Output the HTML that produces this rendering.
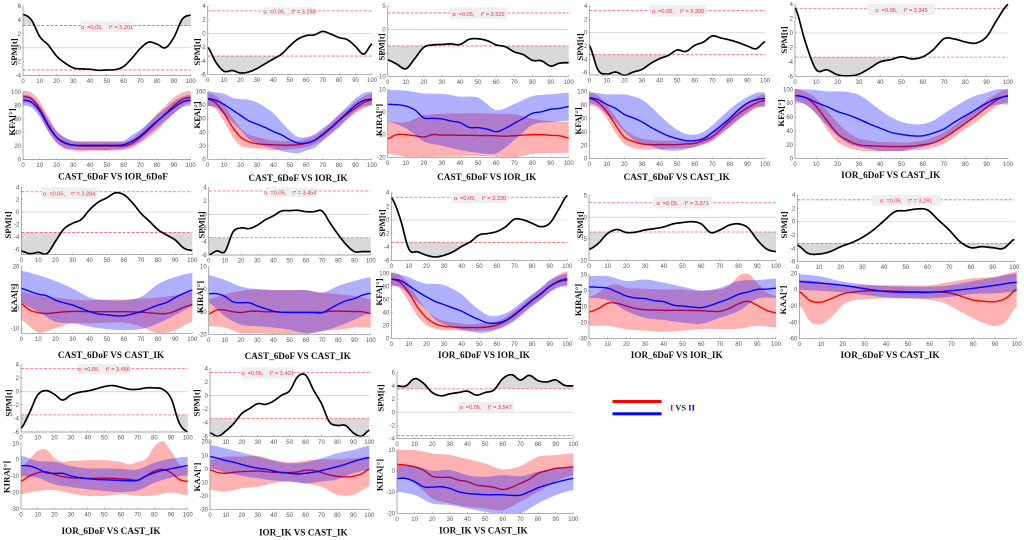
<!DOCTYPE html>
<html lang="en">
<head>
<meta charset="utf-8">
<title>SPM knee kinematics comparison</title>
<style>
html,body{margin:0;padding:0;background:#fff;}
#figure{display:block;width:1024px;height:540px;filter:blur(0.3px);}
.tick{font-family:"Liberation Sans",sans-serif;font-size:6px;fill:#555;}
.ylab{font-family:"Liberation Serif",serif;font-weight:bold;font-size:8.8px;fill:#111;}
.title{font-family:"Liberation Serif",serif;font-weight:bold;font-size:9.2px;fill:#111;}
.alpha{font-family:"Liberation Sans",sans-serif;font-size:5.6px;fill:#ee3344;white-space:pre;}
</style>
</head>
<body>
<svg id="figure" xmlns="http://www.w3.org/2000/svg" width="1024" height="540" viewBox="0 0 1024 540">
  <g id="panels"></g>
  <g>
    <rect x="612.5" y="400" width="49" height="3" fill="#ff0000"/>
    <rect x="612.5" y="412.3" width="49" height="3" fill="#0000ff"/>
    <text x="670" y="410.5" font-family="'Liberation Serif',serif" font-weight="bold" font-size="8.5" fill="#222"><tspan fill="#ff0000">I</tspan> VS <tspan fill="#0000cc">II</tspan></text>
  </g>
</svg>
<script>
const xTicks = [0,10,20,30,40,50,60,70,80,90,100];
const spmTicks64 = [6,4,2,0,-2,-4];
const spmTicks46 = [4,2,0,-2,-4,-6];
const spmTicks510 = [5,0,-5,-10];
const kfaTicks = [100,80,60,40,20,0];
const kiraTicks20 = [10,0,-10,-20];
const kiraTicks30 = [10,0,-10,-20,-30];
const kaaTicks10 = [20,10,0,-10];
const kaaTicks60 = [20,0,-20,-40,-60];
const kaaTicks30 = [20,10,0,-10,-20,-30];

const panelTitles = ["CAST_6DoF VS IOR_6DoF","CAST_6DoF VS IOR_IK","CAST_6DoF VS IOR_IK","CAST_6DoF VS CAST_IK","IOR_6DoF VS CAST_IK","CAST_6DoF VS CAST_IK","CAST_6DoF VS CAST_IK","IOR_6DoF VS IOR_IK","IOR_6DoF VS IOR_IK","IOR_6DoF VS CAST_IK","IOR_6DoF VS CAST_IK","IOR_IK VS CAST_IK","IOR_IK VS CAST_IK"];
const criticalT = [3.201,3.288,3.522,3.300,3.345,3.284,3.454,3.330,3.371,3.281,3.456,3.401,3.547];
const bandLabels = ["KFA[°]","KFA[°]","KIRA[°]","KFA[°]","KFA[°]","KAA[°]","KIRA[°]","KFA[°]","KIRA[°]","KAA[°]","KIRA[°]","KAA[°]","KIRA[°]"];

const p1Spm = [4.8,4,1.6,0.4,-1.2,-2.2,-2.9,-3.05,-3.1,-3.25,-3.2,-3.15,-2.7,-1.5,-0.1,0.8,0.5,0,1.5,4.1,4.7];
const p1Red = [93,90,75,52,33,24,21,20,20,20,20,20,20,24,33,44,56,68,80,89,92];
const p1RedHi = [102,99,86,64,43,32,27,26,26,26,26,26,26,31,41,54,68,80,92,99,102];
const p1RedLo = [84,81,66,42,25,16,13,12,13,13,13,13,14,17,24,33,43,56,68,79,84];
const p1Blue = [88,85,72,50,33,25,21.5,21,21,21,21,21,22,27,35,46,57,67,77,85,88];
const p1BlueHi = [96,93,80,60,42,33,28,27,27,27,27,27,28,36,44,55,66,76,86,93,96];
const p1BlueLo = [80,77,63,42,25,17,15,14,14,14,14,15,16,20,27,37,47,58,68,77,80];

const p2Spm = [-2,-4.2,-5.5,-5.4,-5.75,-5.6,-5.1,-4.4,-3.7,-3,-1.8,-0.8,-0.3,-0.2,0.3,-0.1,-0.6,-0.9,-1.9,-3,-1.5];
const p2Red = [89,83,68,48,33,26,23,22,21.5,21,21,21.5,24,28,36,46,57,67,76,84,88];
const p2RedHi = [98,94,80,62,46,37,33,30,28,27,27,27,30,35,43,54,65,75,85,93,97];
const p2RedLo = [79,74,56,34,20,17,16,15,13,14,15,16,18,22,29,39,49,59,68,75,80];
const p2Blue = [90,87,81,73,65,57,52,47,41,36,29,24,24,28,37,47,58,69,80,87,89];
const p2BlueHi = [101,99,97,91,89,88,84,77,68,55,42,33,33,37,46,55,67,78,90,98,100];
const p2BlueLo = [79,77,66,55,43,30,24,19,16,12,10,9,13,17,27,37,47,60,71,78,80];

const p3Spm = [-6.5,-7.4,-8.4,-6.2,-3.8,-3.3,-3.2,-3.1,-3.2,-2.1,-2,-2.4,-3.3,-3.7,-4.8,-5.4,-6.6,-6.7,-7.8,-7.2,-7.1];
const p3Red = [-11.8,-10,-10,-10.5,-11,-10,-10.2,-10.2,-10.3,-10.3,-10.4,-10.4,-10.5,-10.7,-10.5,-10.2,-10,-10,-10.3,-10.5,-11.5];
const p3RedHi = [-4.3,-4.5,-1.5,-0.8,-0.6,-0.5,-0.8,-1,-3,-4,-4.3];
const p3RedLo = [-18.5,-19.7,-20,-19.7,-19.7,-19.4,-19.7,-20,-18.5,-18.2,-18];
const p3Blue = [3.4,3.2,2.6,0.9,-2.6,-2.8,-3.1,-4,-4.7,-6.8,-6.9,-7.6,-8.7,-7.2,-5,-2.8,-0.6,0.1,1.2,1.6,2.4];
const p3BlueHi = [9.7,9.4,8.2,8,6.8,6.3,0.9,3.5,7,7.8,8.5];
const p3BlueLo = [-4.3,-7.2,-13,-14.9,-16.8,-18,-18.2,-12.4,-5.7,-4.5,-3.8];

const p4Spm = [-1.9,-5.6,-6.2,-5.9,-6.4,-5.9,-5.5,-4.6,-3.9,-3.4,-2.6,-2.8,-1.9,-1.4,-0.5,-0.8,-1.1,-1.5,-2,-2.4,-1.35];
const p4Red = [90,84,70,50,32,26,22,21,21,21,21,22,23,27,33,44,56,67,76,83,87];
const p4RedHi = [99,94,80,62,44,35,30,28,27,27,27,27,28,32,41,52,64,75,84,92,96];
const p4RedLo = [80,75,60,38,22,16,14,14,14,15,15,16,17,21,26,36,47,58,67,75,78];
const p4Blue = [91,88,81,75,66,61,55,47,40,34,30,27,27,30,39,49,60,73,83,88,90];
const p4BlueHi = [99,98,96,96,96,93,88,78,65,53,43,37,36,40,50,62,74,84,92,98,99];
const p4BlueLo = [83,78,66,55,40,29,22,19,14,12,12,14,18,22,28,38,48,59,69,77,78];

const p5Spm = [3.5,-1.4,-5.1,-5.1,-5.8,-5.95,-5.7,-4.9,-4,-3.7,-3.3,-3.6,-3.3,-2.3,-0.8,-0.85,-1.25,-1.4,-0.5,1.9,3.95];
const p5Red = [91,88,75,55,36,26,20,18.5,18,17.5,17.5,18,20,23,30,40,51,62,74,85,91];
const p5RedHi = [101,96,87,70,52,38,29,26,24,24,23,24,26,31,38,48,60,72,84,94,101];
const p5RedLo = [84,78,64,42,24,16,12,11,11,11,11,12,13,16,22,32,43,53,65,76,82];
const p5Blue = [91,88,81,75,68,63,57,50,44,38,35,33,33,37,43,53,62,71,80,87,90];
const p5BlueHi = [100,100,99,97,97,96,92,82,70,60,53,50,50,55,65,75,84,91,95,100,100];
const p5BlueLo = [81,78,65,48,33,22,17,14,11,11,11,14,17,22,30,40,51,62,72,78,78];

const p6Spm = [-6.3,-6.7,-6.5,-6.7,-4.7,-2.7,-1.8,-1.2,0.4,1.6,2.3,3.1,2.8,1.5,-0.2,-1.5,-2.85,-3.7,-4.5,-5.8,-6.2];
const p6Red = [1.8,-1.1,-2.4,-2.8,-2.4,-2,-1.8,-1.8,-1.9,-1.9,-1.9,-1.9,-1.9,-2,-2.1,-2.5,-2.8,-2.8,-1.6,0.2,1.5];
const p6RedHi = [7.8,6,5,4,3.7,4,4,4.5,5,6,7.8];
const p6RedLo = [-6,-12,-10,-7.6,-7.6,-7.3,-7.3,-9.2,-12.5,-10.9,-6.8];
const p6Blue = [9.4,8,6.6,5.8,3.7,2.4,1.3,-0.3,-1.9,-3,-3.4,-3.9,-3.9,-3,-1.9,-0.3,1.3,2.6,5,7,8.6];
const p6BlueHi = [18,15.9,13,9.4,5,3.7,3.7,5.3,11.5,15,17];
const p6BlueLo = [2,-2,-6.8,-7.6,-9.2,-10.4,-10.9,-10.4,-7.6,-3.6,0.5];

const p7Spm = [-6,-5.4,-5.5,-2.6,-2,-2.1,-1.6,-0.8,-0.2,0.5,0.55,0.6,0.4,0.4,0.5,-1.3,-3,-4.5,-5.5,-5.5,-5.5];
const p7Red = [-11,-9.2,-9.3,-10,-10.3,-9.8,-9.8,-10,-10,-10.2,-10.2,-10.2,-10.2,-10.2,-10.2,-9.8,-9.7,-9.8,-9.9,-10,-10.8];
const p7RedHi = [-4.4,-2.2,-0.7,0,-0.3,-0.4,-0.4,-1.5,-2.2,-3,-4.4];
const p7RedLo = [-16.4,-17,-19.5,-19.5,-20,-20,-20,-18.4,-18,-17,-17];
const p7Blue = [-2,-2,-3.2,-5.6,-6,-6,-7.4,-8.6,-9.7,-10.2,-10.3,-10.3,-10.3,-10.4,-10.4,-8.6,-6.6,-5.1,-4.1,-2.6,-1.8];
const p7BlueHi = [6.2,4.1,1.2,0,-0.4,-0.4,-0.4,-1.5,1.5,3.7,5.3];
const p7BlueLo = [-6,-12,-15.7,-16.4,-17,-18,-19.5,-18.7,-16.4,-13.5,-10.5];

const p8Spm = [3.3,0.25,-4.3,-4.7,-5.2,-5.45,-5.2,-4.7,-3.9,-3.2,-2.2,-2,-1.7,-1,0.1,0,-0.5,-1,-0.5,1.5,3.6];
const p8Red = [91,86,70,48,32,23,19,18,17,17,17,18,21,27,36,47,58,68,80,88,92];
const p8RedHi = [102,97,84,62,44,33,27,25,23,22,23,24,27,33,43,54,66,77,88,98,103];
const p8RedLo = [82,76,56,34,21,15,13,13,12,12,12,13,15,21,29,40,50,60,71,80,82];
const p8Blue = [91,89,81,72,64,57,52,47,42,35,29,24,24,28,37,48,59,69,80,87,90];
const p8BlueHi = [100,98,94,88,84,84,82,76,68,55,44,36,35,39,47,58,68,78,90,96,100];
const p8BlueLo = [81,79,68,56,44,29,22,17,14,11,9,10,14,19,27,38,50,60,71,78,80];

const p9Spm = [-7.4,-6,-3.7,-2.8,-3.5,-3.4,-2.9,-2.6,-2.2,-1.5,-1.2,-1,-1.5,-3.5,-2.9,-1.8,-1.5,-2.4,-5.2,-7.3,-7.9];
const p9Red = [-13.4,-11.3,-8,-8,-9.7,-11.2,-12,-12.2,-12.4,-12.4,-12.4,-12.5,-12.6,-13,-13,-11.2,-8.3,-6.8,-9.3,-12.4,-13.9];
const p9RedHi = [-4,-1.5,2.7,3.7,1.6,1.2,1,0.8,0.6,0.6,0.6,0,-0.4,0,0.6,3,8.9,10.3,4.8,-1,-3.5];
const p9RedLo = [-22,-22,-24,-25,-25.7,-25,-24,-24,-23.8,-22,-23];
const p9Blue = [2.2,1.9,1.4,-1,-3.5,-4.7,-5.1,-6.4,-7,-9.1,-9.7,-10.3,-10.7,-9.3,-7.2,-5.1,-2.4,-1,0.6,0.8,1.4];
const p9BlueHi = [8.9,8.9,5.8,6.8,4.8,2.3,0,1.6,5.8,6.4,7.4];
const p9BlueLo = [-4.6,-6,-12.8,-17,-18.4,-20,-20.7,-17,-12.8,-5.2,-4.6];

const p10Spm = [-3.5,-4.75,-4.85,-4.5,-3.75,-3.15,-2.35,-1.25,0.15,1.5,1.65,1.9,1.75,0.25,-1.25,-3,-3.9,-3.75,-3.9,-4,-2.65];
const p10Red = [-2.4,-13.5,-15.2,-10.6,-5.3,-2.9,-1.6,-1.5,-1.6,-2,-2.4,-2.6,-2.9,-3,-4.5,-8.6,-12.7,-14.3,-14.7,-10.6,0.4];
const p10RedHi = [11.8,9.8,5.7,5.3,5.3,5.3,5.3,9.8,13.9,16,22];
const p10RedLo = [-18.8,-39,-42.4,-33,-18.8,-13,-11.8,-11,-10.6,-10.6,-10.6,-11,-12.7,-15,-20.8,-28,-35,-41,-44.5,-39,-20.8];
const p10Blue = [9.8,7.8,5.3,1.2,-2.4,-3.3,-3.3,-1.2,1.6,5.3,9];
const p10BlueHi = [18.8,16,9.8,6.5,4.5,3.7,3.7,5.7,10.6,15,20];
const p10BlueLo = [-0.4,-1.6,-3.3,-6.5,-9.4,-10.6,-10.6,-8.6,-5.3,-4.5,-2.4];

const p11Spm = [-5.45,-3.2,-0.5,0.15,-0.4,-1.25,-0.5,-0.1,0.1,0.4,0.75,0.9,0.65,0.35,0.35,0.55,0.55,0.35,-1,-4.7,-6];
const p11Red = [-13,-10,-8,-7.3,-8.9,-10.3,-11,-11.2,-11.4,-11.3,-11.2,-11.3,-11.6,-12,-12.4,-9.9,-6.9,-5.9,-7.9,-12,-13.2];
const p11RedHi = [-4.9,0.2,5.3,6.3,1.2,-1.4,-0.6,-0.6,-0.2,-0.2,-0.2,-0.8,-1.4,-2.8,-1.4,0.6,8,11.2,5.3,-2.8,-4.9];
const p11RedLo = [-21,-19,-18.5,-20.5,-22,-22,-21,-22,-21.7,-20,-21.7];
const p11Blue = [-3.6,-3.8,-5.5,-7.9,-8.3,-8.3,-9.9,-10.9,-11.5,-12,-12.2,-12.4,-12.6,-12.8,-12.6,-9.9,-7.9,-6.5,-5.5,-4.5,-3.6];
const p11BlueHi = [2.4,-0.8,-1.2,-3.9,-5.3,-5.3,-5.5,-5.9,-1.8,0.6,1.8];
const p11BlueLo = [-10,-11,-15,-16.6,-18,-19,-19.7,-18.7,-14,-11,-9.5];

const p12Spm = [-5.5,-6,-5.2,-4.1,-2.65,-1.9,-1.2,-1.3,-0.8,0.05,0.7,2.75,3,0.8,-1.2,-3.9,-4.4,-4.4,-5.5,-6,-5.1];
const p12Red = [-0.7,-2.7,-3.2,-2.5,-2,-1.8,-1.5,-2,-2.5,-2.6,-2.7,-2.2,-1,-1.2,-2.7,-4.4,-5.4,-5.9,-5.4,-3.7,-0.2];
const p12RedHi = [6.6,9,9,9.6,6.6,4.7,6.1,7.1,7.1,7.8,9];
const p12RedLo = [-15.4,-16.7,-14.2,-13,-10.5,-9.3,-11,-13,-19,-19,-13];
const p12Blue = [9,7.8,6.1,4.9,3.2,1.7,0.5,-0.2,-1.5,-2.7,-3.2,-3.7,-3.2,-2.4,-1.2,0.2,1.7,3.4,5.4,7.1,8.3];
const p12BlueHi = [17.6,15,12,9,5.9,4.2,4.9,7.8,11.5,14,17];
const p12BlueLo = [0.5,-2.7,-5.1,-6.9,-8.6,-9.3,-10.5,-9.3,-7.6,-3.2,-0.7];

const p13Spm = [4,4,5.1,4.4,3,2.5,2.8,3,3.2,2.6,3,3.4,5.1,5.7,4.9,5.6,4.8,4.6,4.9,4.1,4];
const p13Red = [3.2,2.8,2,0.5,-2.4,-3,-3,-4.3,-5,-6.6,-7.1,-7.7,-8.7,-7.7,-5.8,-3.9,-1.1,0.2,1.3,1.6,2];
const p13RedHi = [10,10,8.4,7.6,5.7,3.6,0.8,2.4,6.8,7.6,8.4];
const p13RedLo = [-2.7,-5.8,-13,-15.3,-16.9,-17.7,-18.5,-14.5,-9.8,-5,-1.9];
const p13Blue = [-3.5,-3.5,-5,-7.4,-7.6,-7.4,-8.2,-9.8,-10.6,-10.9,-11.2,-11.2,-11.2,-11.5,-11.4,-9.8,-7.9,-6.6,-5.4,-4.3,-3.5];
const p13BlueHi = [2.8,2.4,0.2,0.5,-1.9,-2.7,-1.9,-2.4,-0.3,1.3,2];
const p13BlueLo = [-9.8,-11.4,-15.3,-16.1,-17.7,-19.3,-20.5,-20,-15.3,-11.4,-9];

const spmSeries = [p1Spm,p2Spm,p3Spm,p4Spm,p5Spm,p6Spm,p7Spm,p8Spm,p9Spm,p10Spm,p11Spm,p12Spm,p13Spm];
const redSeries = [p1Red,p2Red,p3Red,p4Red,p5Red,p6Red,p7Red,p8Red,p9Red,p10Red,p11Red,p12Red,p13Red];
const redHiSeries = [p1RedHi,p2RedHi,p3RedHi,p4RedHi,p5RedHi,p6RedHi,p7RedHi,p8RedHi,p9RedHi,p10RedHi,p11RedHi,p12RedHi,p13RedHi];
const redLoSeries = [p1RedLo,p2RedLo,p3RedLo,p4RedLo,p5RedLo,p6RedLo,p7RedLo,p8RedLo,p9RedLo,p10RedLo,p11RedLo,p12RedLo,p13RedLo];
const blueSeries = [p1Blue,p2Blue,p3Blue,p4Blue,p5Blue,p6Blue,p7Blue,p8Blue,p9Blue,p10Blue,p11Blue,p12Blue,p13Blue];
const blueHiSeries = [p1BlueHi,p2BlueHi,p3BlueHi,p4BlueHi,p5BlueHi,p6BlueHi,p7BlueHi,p8BlueHi,p9BlueHi,p10BlueHi,p11BlueHi,p12BlueHi,p13BlueHi];
const blueLoSeries = [p1BlueLo,p2BlueLo,p3BlueLo,p4BlueLo,p5BlueLo,p6BlueLo,p7BlueLo,p8BlueLo,p9BlueLo,p10BlueLo,p11BlueLo,p12BlueLo,p13BlueLo];

/* layout only: pixel geometry of each panel's axes and annotations */
const layouts = [
 {x0:23,x1:190.7,bx0:23,bx1:190.7,sHi:6,sHiY:6,sLo:-4,sLoY:75.5,sBot:75.5,sT:spmTicks64,bHi:100,bHiY:92,bLo:0,bLoY:159.5,bBot:159.5,bT:kfaTicks,tx:113,ty:179.5,sx:14,sy:52,bx:12,by:122,box:[81,21.7,52,10.3],ay:29},
 {x0:207.7,x1:372,bx0:207.7,bx1:372,sHi:4,sHiY:6,sLo:-6,sLoY:74.7,sBot:74.7,sT:spmTicks46,bHi:100,bHiY:91.7,bLo:0,bLoY:159.3,bBot:159.3,bT:kfaTicks,tx:298,ty:181,sx:197,sy:52,bx:197,by:115,box:[264,7.3,51,8.4],ay:13.5},
 {x0:387.7,x1:568.7,bx0:387.7,bx1:568.7,sHi:5,sHiY:6,sLo:-10,sLoY:76.3,sBot:76.3,sT:spmTicks510,bHi:10,bHiY:89.3,bLo:-20,bLoY:157.3,bBot:157.3,bT:kiraTicks20,tx:486.7,ty:180,sx:381.7,sy:47,bx:379,by:120,box:[450,7.3,57,11.7],ay:16},
 {x0:589.3,x1:765,bx0:589.3,bx1:765,sHi:4,sHiY:6,sLo:-6,sLoY:72.7,sBot:75,sT:spmTicks46,bHi:100,bHiY:91.7,bLo:0,bLoY:158.7,bBot:158.7,bT:kfaTicks,tx:676.7,ty:180,sx:580,sy:47,bx:578,by:121,box:[650,5,56,11.7],ay:13},
 {x0:795,x1:1008,bx0:795,bx1:1008,sHi:4,sHiY:4,sLo:-6,sLoY:76.3,sBot:76.3,sT:spmTicks46,bHi:100,bHiY:89.3,bLo:0,bLoY:158.7,bBot:158.7,bT:kfaTicks,tx:890.7,ty:178,sx:784,sy:40,bx:781,by:113,box:[868,4,67,11],ay:12},
 {x0:21.3,x1:192.3,bx0:21.3,bx1:192.3,sHi:4,sHiY:187.3,sLo:-6,sLoY:249.3,sBot:254.7,sT:spmTicks46,bHi:20,bHiY:266.7,bLo:-10,bLoY:328.3,bBot:333.3,bT:kaaTicks10,tx:111,ty:358,sx:8,sy:225,bx:14,by:298,box:[41.7,187.3,55,11.7],ay:195.3},
 {x0:208.7,x1:370.7,bx0:208.7,bx1:370.7,sHi:4,sHiY:187.3,sLo:-6,sLoY:255,sBot:255,sT:spmTicks46,bHi:10,bHiY:266.7,bLo:-20,bLoY:334.3,bBot:334.3,bT:kiraTicks20,tx:297.7,ty:359,sx:201.7,sy:225,bx:200,by:297,box:[265,187.3,50.7,9.5],ay:194.3},
 {x0:391.3,x1:567.3,bx0:391.3,bx1:567.3,sHi:4,sHiY:192.7,sLo:-6,sLoY:260.7,sBot:260.7,sT:spmTicks46,bHi:100,bHiY:273.3,bLo:0,bLoY:338.7,bBot:338.7,bT:kfaTicks,tx:484,ty:358,sx:382,sy:223,bx:379,by:292,box:[451.7,192.7,56.6,10.6],ay:200},
 {x0:589,x1:776,bx0:589,bx1:776,sHi:5,sHiY:195.7,sLo:-10,sLoY:260.7,sBot:260.7,sT:spmTicks510,bHi:10,bHiY:274.3,bLo:-30,bLoY:338.7,bBot:338.7,bT:kiraTicks30,tx:676.7,ty:358,sx:580,sy:225,bx:578,by:300,box:[653.3,196.7,58.4,11.6],ay:205},
 {x0:797.3,x1:1014.3,bx0:799.3,bx1:1016.7,sHi:4,sHiY:195,sLo:-6,sLoY:261.7,sBot:261.7,sT:spmTicks46,bHi:20,bHiY:273.3,bLo:-60,bLoY:338.7,bBot:338.7,bT:kaaTicks60,tx:890,ty:358,sx:784,sy:225,bx:783,by:300,box:[871.7,195,69,10.7],ay:202.5},
 {x0:21,x1:187.7,bx0:21,bx1:187.7,sHi:4,sHiY:364.7,sLo:-6,sLoY:432,sBot:432,sT:spmTicks46,bHi:10,bHiY:443.3,bLo:-30,bLoY:509,bBot:509,bT:kiraTicks30,tx:111,ty:534,sx:8.3,sy:403,bx:6.7,by:477,box:[77.7,364,52.3,10],ay:371},
 {x0:210,x1:369.3,bx0:210,bx1:369.3,sHi:4,sHiY:368.3,sLo:-6,sLoY:436.3,sBot:436.3,sT:spmTicks46,bHi:20,bHiY:441.7,bLo:-30,bLoY:509.7,bBot:509.7,bT:kaaTicks30,tx:303.3,ty:535.5,sx:196.7,sy:403,bx:197,by:477,box:[241.7,367.3,51.6,11],ay:375},
 {x0:397,x1:573.3,bx0:397,bx1:573.3,sHi:6,sHiY:372.7,sLo:-4,sLoY:438.7,sBot:438.7,sT:spmTicks64,bHi:10,bHiY:450,bLo:-20,bLoY:513.3,bBot:513.3,bT:kiraTicks20,tx:483.3,ty:533.5,sx:380.7,sy:398,bx:379.3,by:475,box:[457.3,401.7,56.7,10.6],ay:409}
];

const SVGNS = "http://www.w3.org/2000/svg";
const root = document.getElementById("panels");
const STEPS = 200;

function make(parent, tag, props, content) {
  const node = document.createElementNS(SVGNS, tag);
  for (const k in props) node.setAttribute(k, props[k]);
  if (content !== undefined) node.textContent = content;
  parent.appendChild(node);
  return node;
}
function linScale(v0, p0, v1, p1) {
  return function (v) { return p0 + (v - v0) * (p1 - p0) / (v1 - v0); };
}
/* Catmull-Rom read of an evenly spaced series over the 0..100 % gait axis */
function valueAt(arr, t) {
  const n = arr.length;
  const u = t / 100 * (n - 1);
  const i = Math.min(Math.floor(u), n - 2);
  const f = u - i;
  const a = arr[Math.max(i - 1, 0)], b = arr[i], c = arr[i + 1], d = arr[Math.min(i + 2, n - 1)];
  return 0.5 * (2 * b + (c - a) * f + (2 * a - 5 * b + 4 * c - d) * f * f + (3 * b - a - 3 * c + d) * f * f * f);
}
function linePath(arr, sx, sy, maxY) {
  let s = "";
  for (let k = 0; k <= STEPS; k++) {
    const t = k / STEPS * 100;
    const y = Math.min(sy(valueAt(arr, t)), maxY);
    s += (k ? "L" : "M") + sx(t).toFixed(2) + " " + y.toFixed(2);
  }
  return s;
}
function bandPath(hi, lo, sx, sy, maxY) {
  let s = "";
  for (let k = 0; k <= STEPS; k++) {
    const t = k / STEPS * 100;
    s += (k ? "L" : "M") + sx(t).toFixed(2) + " " + Math.min(sy(valueAt(hi, t)), maxY).toFixed(2);
  }
  for (let k = STEPS; k >= 0; k--) {
    const t = k / STEPS * 100;
    s += "L" + sx(t).toFixed(2) + " " + Math.min(sy(valueAt(lo, t)), maxY).toFixed(2);
  }
  return s + "Z";
}
function shadePath(arr, level, isUpper, sx, sy, maxY) {
  let s = "M" + sx(0).toFixed(2) + " " + sy(level).toFixed(2);
  for (let k = 0; k <= STEPS; k++) {
    const t = k / STEPS * 100;
    const raw = valueAt(arr, t);
    const v = isUpper ? Math.max(raw, level) : Math.min(raw, level);
    s += "L" + sx(t).toFixed(2) + " " + Math.min(sy(v), maxY).toFixed(2);
  }
  return s + "L" + sx(100).toFixed(2) + " " + sy(level).toFixed(2) + "Z";
}
function drawAxes(g, prefix, sx, sy, x0, x1, topY, botY, yTicks) {
  const yAxis = make(g, "line", {x1: x0, x2: x0, y1: topY, y2: botY, stroke: "#888", "stroke-width": 0.7});
  
  
  const xAxis = make(g, "line", {x1: x0, x2: x1, y1: botY, y2: botY, stroke: "#888", "stroke-width": 0.7});
  
  
  xTicks.forEach(function (v) {
    make(g, "line", {x1: sx(v), x2: sx(v), y1: botY, y2: botY - 1.5, stroke: "#888", "stroke-width": 0.5});
    const lab = make(g, "text", {class: "tick", x: sx(v), y: botY + 7.5, "text-anchor": "middle"}, String(v));
    
    
  });
  yTicks.forEach(function (v) {
    make(g, "line", {x1: x0, x2: x0 + 1.5, y1: sy(v), y2: sy(v), stroke: "#888", "stroke-width": 0.5});
    const lab = make(g, "text", {class: "tick", x: x0 - 2, y: sy(v) + 2, "text-anchor": "end"}, String(v));
    
    
  });
}

layouts.forEach(function (L, idx) {
  const id = "panel-" + (idx + 1);
  const g = make(root, "g", {});
  
  

  /* SPM{t} trajectory */
  const sx = linScale(0, L.x0, 100, L.x1);
  const sy = linScale(L.sHi, L.sHiY, L.sLo, L.sLoY);
  const t = criticalT[idx];
  const spm = spmSeries[idx];
  const top = Math.min(L.sHiY, sy(L.sT[0]));

  const shadeUp = make(g, "path", {d: shadePath(spm, t, true, sx, sy, L.sBot), fill: "#d9d9d9"});
  
  
  const shadeLow = make(g, "path", {d: shadePath(spm, -t, false, sx, sy, L.sBot), fill: "#d9d9d9"});
  
  

  const zero = make(g, "line", {x1: L.x0, x2: L.x1, y1: sy(0), y2: sy(0), stroke: "#d8d8d8", "stroke-width": 0.9});
  
  
  [t, -t].forEach(function (lv) {
    const th = make(g, "line", {x1: L.x0, x2: L.x1, y1: sy(lv), y2: sy(lv), stroke: "#f2606e", "stroke-width": 0.8, "stroke-dasharray": "3 1.6"});
    
    
  });

  const box = make(g, "rect", {x: L.box[0], y: L.box[1], width: L.box[2], height: L.box[3], fill: "#efefef"});
  
  
  const alpha = make(g, "text", {class: "alpha", x: L.box[0] + L.box[2] / 2, y: L.ay, "text-anchor": "middle"}, "α  =0.05,    t* = " + t.toFixed(3));
  
  

  const spmLine = make(g, "path", {d: linePath(spm, sx, sy, L.sBot), fill: "none", stroke: "#000", "stroke-width": 1.7, "stroke-linejoin": "round"});
  
  
  drawAxes(g, id + "-spm", sx, sy, L.x0, L.x1, top, L.sBot, L.sT);

  const spmLab = make(g, "text", {class: "ylab", transform: "translate(" + (L.sx + 3) + " " + L.sy + ") rotate(-90)", "text-anchor": "middle"}, "SPM[t]");
  
  

  /* mean +/- SD angle panel */
  const bx = linScale(0, L.bx0, 100, L.bx1);
  const by = linScale(L.bHi, L.bHiY, L.bLo, L.bLoY);

  const redBand = make(g, "path", {d: bandPath(redHiSeries[idx], redLoSeries[idx], bx, by, L.bBot), fill: "#ff0000", "fill-opacity": 0.3});
  
  
  const redLine = make(g, "path", {d: linePath(redSeries[idx], bx, by, L.bBot), fill: "none", stroke: "#ff0000", "stroke-width": 1.4});
  
  
  const blueBand = make(g, "path", {d: bandPath(blueHiSeries[idx], blueLoSeries[idx], bx, by, L.bBot), fill: "#0000ff", "fill-opacity": 0.31});
  
  
  const blueLine = make(g, "path", {d: linePath(blueSeries[idx], bx, by, L.bBot), fill: "none", stroke: "#0000ff", "stroke-width": 1.4});
  
  
  drawAxes(g, id + "-angle", bx, by, L.bx0, L.bx1, by(L.bT[0]), L.bBot, L.bT);

  const bLab = make(g, "text", {class: "ylab", transform: "translate(" + (L.bx + 3) + " " + L.by + ") rotate(-90)", "text-anchor": "middle"}, bandLabels[idx]);
  
  
  const title = make(g, "text", {class: "title", x: L.tx, y: L.ty, "text-anchor": "middle"}, panelTitles[idx]);
  
  
});
</script>
</body>
</html>
